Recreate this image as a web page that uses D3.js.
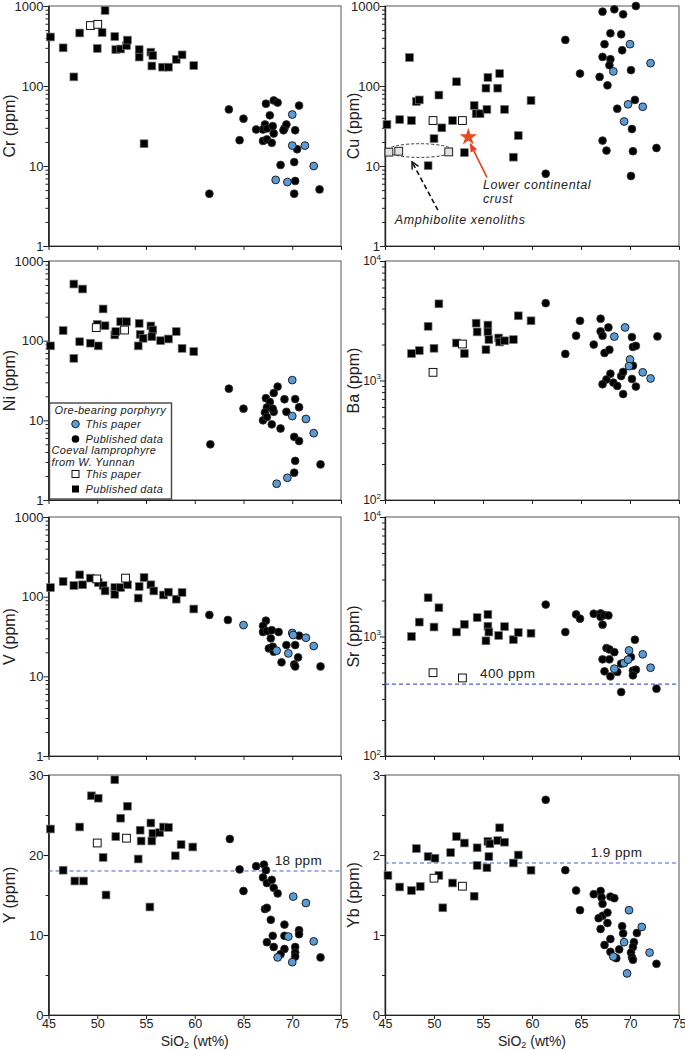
<!DOCTYPE html>
<html><head><meta charset="utf-8">
<script src="https://cdn.jsdelivr.net/npm/d3@7"></script>
<style>
body{margin:0;background:#fff}
svg{display:block}
text{font-family:"Liberation Sans",Arial,Helvetica,sans-serif;fill:#222}
</style>
</head><body>
<svg id="c" width="685" height="1050"></svg>
<script>
// ---------------- DATA ----------------
const xTicks = [45, 50, 55, 60, 65, 70, 75];
const xTitle = "SiO";

// Cr
const crLampPub = [[45.2,410],[46.5,300],[47.6,130],[48.2,460],[50.0,295],[50.5,465],[50.8,880],[51.8,415],[51.9,285],[52.4,290],[53.0,320],[53.1,375],[54.3,285],[54.3,230],[55.5,265],[55.7,240],[55.6,178],[56.7,172],[57.3,172],[58.1,215],[58.7,245],[59.9,180],[54.8,19]];
const crLampThis = [[49.3,570],[50.05,590]];
const crPorPub = [[61.5,4.5],[63.5,51],[65.0,39],[64.6,21],[66.3,28.6],[67.3,60],[68.1,66],[68.5,62],[67.7,43],[67.2,33],[67.0,28.6],[67.4,29.5],[68.0,31.5],[68.1,25.5],[67.0,20.6],[67.4,21.5],[67.9,19.5],[69.2,29.5],[69.4,33],[69.1,28],[68.8,10.3],[70.3,28],[70.7,57],[70.5,16.2],[70.2,11.2],[70.3,6.5],[70.2,4.5],[72.8,5.1]];
const crPorThis = [[70.0,44],[70.0,18],[71.3,18],[72.2,10],[68.3,6.7],[69.5,6.3]];

// Cu
const cuLampPub = [[45.2,33],[46.5,38],[47.5,227],[47.7,37],[48.2,64],[48.5,67],[49.4,10.1],[50.0,22],[50.5,77],[50.8,30],[51.9,37],[52.3,113],[53.1,14.7],[54.1,57],[54.3,45],[54.7,45],[55.3,94],[55.5,128],[55.4,51],[56.5,94],[56.7,143],[57.2,51],[58.6,24],[58.1,12.9],[59.9,66]];
const cuLampThis = [[49.9,37],[52.9,37]];
const cuAmph = [[45.4,14.9],[46.4,15.3],[51.5,15]];
const cuLcc = [[53.5,23]];
const cuPorPub = [[61.4,8],[63.4,377],[64.9,143],[67.2,850],[68.4,910],[69.3,787],[70.6,1000],[68.0,456],[69.1,443],[67.4,333],[69.2,280],[67.2,231],[68.0,216],[67.9,182],[66.9,130],[67.7,102],[70.1,158],[70.5,67],[68.7,52],[70.2,29],[67.2,20.8],[67.6,15.6],[70.3,15.3],[70.1,7.5],[72.7,16.8]];
const cuPorThis = [[70.0,333],[68.3,152],[72.1,193],[69.8,59],[71.3,55],[69.4,36]];

// Ni
const niLampPub = [[45.2,86],[46.5,134],[47.6,514],[48.5,445],[47.6,60],[48.2,97],[49.3,93],[50.1,86],[50.0,160],[50.6,250],[50.8,154],[51.8,118],[51.9,130],[52.4,173],[53.0,173],[54.3,165],[54.4,120],[54.7,107],[55.5,153],[55.7,136],[55.6,112],[54.2,86],[56.5,100],[57.3,105],[58.1,130],[58.7,80],[59.9,73]];
const niLampThis = [[49.9,146],[52.8,136]];
const niPorPub = [[61.6,5.0],[63.5,25],[65.0,14],[68.5,26.5],[68.1,22],[67.3,19],[67.7,17],[67.4,14.5],[67.2,12.6],[68.1,12.8],[68.0,14],[67.0,10],[67.4,11],[67.9,8.9],[68.8,7.9],[69.2,18.4],[69.4,12.8],[70.3,18.5],[70.7,14.6],[70.2,6.2],[70.7,5.5],[70.3,3.1],[70.2,2.2],[72.9,2.8]];
const niPorThis = [[70.0,32],[70.0,11.3],[71.4,10.4],[72.2,6.9],[68.4,1.6],[69.5,1.9]];

// Ba
const baLampPub = [[47.7,1680],[48.5,1780],[49.4,2840],[50.5,4380],[50.0,1860],[52.3,2060],[53.1,1680],[54.3,3020],[54.4,2550],[55.5,2910],[55.5,2550],[55.6,2200],[55.3,1810],[56.6,2270],[56.7,2100],[57.2,2150],[58.1,2200],[58.6,3480],[59.9,3160]];
const baLampThis = [[49.9,1170],[52.9,2020]];
const baPorPub = [[61.4,4440],[63.4,1670],[64.5,2370],[64.9,3160],[66.3,2000],[67.0,3290],[67.0,2580],[67.2,2370],[67.8,2780],[67.4,1700],[67.9,1810],[68.0,1140],[67.6,1020],[67.2,930],[68.3,960],[68.7,900],[69.1,1090],[69.3,1180],[69.3,770],[70.2,2310],[70.3,1910],[70.6,1950],[70.3,1330],[70.2,1030],[70.6,890],[72.8,2340]];
const baPorThis = [[68.4,2330],[69.5,2780],[70.0,1500],[69.9,1320],[71.3,1170],[72.1,1040]];

// V
const vLampPub = [[45.2,130],[46.5,155],[47.6,138],[48.2,188],[48.5,141],[49.3,171],[50.1,150],[50.6,138],[50.8,118],[51.8,130],[51.8,107],[52.4,130],[53.1,141],[54.2,96],[54.3,134],[54.8,174],[55.5,141],[55.8,118],[56.8,105],[57.3,114],[58.1,93],[58.7,113],[59.9,70]];
const vLampThis = [[49.95,167],[52.9,171]];
const vPorPub = [[61.5,59],[63.4,51],[67.3,50],[67.0,43],[67.0,36],[67.4,37],[67.9,38],[68.6,36],[67.8,30],[67.6,22.4],[68.1,20.4],[68.0,23.5],[68.9,15],[69.4,24.7],[70.3,24.7],[70.7,32.4],[70.6,17.3],[70.2,14.1],[70.3,13.3],[72.9,13.3]];
const vPorThis = [[65.0,44],[70.0,35],[70.1,33],[71.4,30.5],[72.2,24],[68.4,21],[69.6,19.4]];

// Sr
const srLampPub = [[47.7,1000],[48.5,1320],[49.4,2110],[50.0,1200],[50.5,1740],[52.3,1090],[53.1,1265],[54.4,1440],[55.5,1530],[55.5,1220],[55.6,1090],[55.3,920],[56.6,1020],[57.2,1210],[58.1,940],[58.6,1080],[59.9,1065]];
const srLampThis = [[49.9,498],[52.9,450]];
const srPorPub = [[61.4,1850],[63.4,1090],[64.5,1530],[64.9,1410],[66.3,1550],[67.0,1560],[67.0,1460],[67.4,1510],[67.8,1500],[67.2,1256],[67.6,800],[67.9,780],[68.4,740],[67.2,644],[67.9,644],[67.4,511],[68.0,464],[68.7,505],[69.1,343],[69.1,592],[70.1,673],[70.3,518],[70.6,527],[70.3,473],[70.5,940],[72.7,366]];
const srPorThis = [[68.4,538],[69.4,600],[69.9,765],[69.8,640],[71.3,709],[72.1,548]];

// Y
const yLampPub = [[45.2,23.25],[46.5,18.1],[47.7,16.75],[48.2,23.5],[48.6,16.75],[49.4,27.4],[50.1,27.1],[50.6,19.7],[50.9,15],[51.8,29.4],[51.9,22.3],[52.4,24.6],[53.1,26.1],[54.4,23.1],[54.2,19.5],[54.5,21.75],[55.5,24],[55.7,22.7],[55.6,21.75],[55.4,13.5],[56.4,22.8],[56.8,23.5],[57.3,23.45],[58.0,19.9],[58.6,21.3],[59.8,21]];
const yLampThis = [[50.0,21.5],[53.0,22.1]];
const yPorPub = [[63.6,22],[64.6,18.2],[65.0,15.5],[66.3,18.6],[67.1,18.8],[67.3,18.1],[67.0,17.2],[67.4,16.5],[67.9,16.9],[68.1,15.9],[68.5,15.2],[67.2,13.25],[67.4,13.4],[67.8,11.9],[69.2,11.3],[68.0,9.9],[67.4,9.1],[68.1,8.5],[69.2,9.9],[69.2,8.25],[68.8,7.6],[70.3,8.5],[70.3,7.8],[70.3,7.3],[70.7,10.6],[70.7,10.1],[72.9,7.2]];
const yPorThis = [[70.1,14.8],[71.4,14],[69.6,9.8],[72.2,9.2],[68.5,7.2],[70.0,6.6]];

// Yb
const ybLampPub = [[45.3,1.745],[46.5,1.60],[47.7,1.556],[48.2,2.08],[48.6,1.607],[49.4,1.98],[50.1,1.96],[50.5,1.745],[50.9,1.34],[51.7,2.03],[51.9,1.65],[52.3,2.23],[53.1,2.15],[54.1,1.485],[54.4,2.09],[54.4,1.87],[55.4,1.84],[55.5,2.17],[55.6,1.98],[55.7,2.14],[56.5,2.18],[56.7,2.34],[57.2,2.16],[58.1,1.90],[58.6,2.0],[59.9,1.81]];
const ybLampThis = [[50.0,1.71],[52.9,1.61]];
const ybPorPub = [[61.4,2.69],[63.4,1.81],[64.5,1.556],[64.9,1.31],[66.3,1.51],[67.0,1.55],[67.1,1.47],[67.2,1.39],[68.0,1.48],[68.4,1.46],[67.2,1.24],[66.8,1.21],[67.7,1.28],[67.7,1.15],[67.0,1.075],[69.2,1.11],[69.3,1.02],[68.0,0.95],[67.4,0.875],[68.0,0.79],[68.9,0.82],[68.6,0.71],[70.7,1.025],[70.4,0.91],[70.3,0.85],[70.1,0.78],[70.2,0.72],[70.3,0.69],[72.7,0.64]];
const ybPorThis = [[69.9,1.31],[71.2,1.10],[69.4,0.91],[72.0,0.78],[68.3,0.73],[69.7,0.52]];

// reference lines and annotations (data coordinates)
const srRef = [400, "400 ppm", 54.7];
const yRef = [18, "18 ppm", 68.2];
const ybRef = [1.9, "1.9 ppm", 66.0];
const cuEllipse = {x: [45.2, 51.9], y: [12.8, 19]};
const lccArrow = [[55.4, 7.2], [53.7, 19]];
const lccText = [[55.0, 5.2, "Lower continental"], [55.0, 3.4, "crust"]];
const amphArrow = [[50.4, 2.8], [47.75, 11.3]];
const amphText = [46.0, 1.86, "Amphibolite xenoliths"];
const legendLines = ["Ore-bearing porphyry", "This paper", "Published data", "Coeval lamprophyre", "from W. Yunnan", "This paper", "Published data"];

// ---------------- LAYOUT ----------------
const svg = d3.select("#c");
const colX = [[48.5, 341], [385, 679]];
const rowY = [[6, 246], [261, 500], [517, 756], [775, 1015]];
const BLUE = "#5b9bd5";

const panels = [
  {label:"Cr (ppm)", col:0, row:0, log:true, dom:[1,1000], sup:false, lp:crLampPub, lt:crLampThis, pp:crPorPub, pt:crPorThis},
  {label:"Cu (ppm)", col:1, row:0, log:true, dom:[1,1000], sup:false, lp:cuLampPub, lt:cuLampThis, pp:cuPorPub, pt:cuPorThis, cu:true},
  {label:"Ni (ppm)", col:0, row:1, log:true, dom:[1,1000], sup:false, lp:niLampPub, lt:niLampThis, pp:niPorPub, pt:niPorThis, legend:true},
  {label:"Ba (ppm)", col:1, row:1, log:true, dom:[100,10000], sup:true, lp:baLampPub, lt:baLampThis, pp:baPorPub, pt:baPorThis},
  {label:"V (ppm)", col:0, row:2, log:true, dom:[1,1000], sup:false, lp:vLampPub, lt:vLampThis, pp:vPorPub, pt:vPorThis},
  {label:"Sr (ppm)", col:1, row:2, log:true, dom:[100,10000], sup:true, lp:srLampPub, lt:srLampThis, pp:srPorPub, pt:srPorThis, ref:srRef},
  {label:"Y (ppm)", col:0, row:3, log:false, dom:[0,30], major:[0,10,20,30], minor:[5,15,25], lp:yLampPub, lt:yLampThis, pp:yPorPub, pt:yPorThis, ref:yRef},
  {label:"Yb (ppm)", col:1, row:3, log:false, dom:[0,3], major:[0,1,2,3], minor:[0.5,1.5,2.5], lp:ybLampPub, lt:ybLampThis, pp:ybPorPub, pt:ybPorThis, ref:ybRef}
];

const defs = svg.append("defs");
defs.append("marker").attr("id","arrRed").attr("viewBox","0 0 10 10").attr("refX",9).attr("refY",5)
  .attr("markerWidth",9).attr("markerHeight",9).attr("markerUnits","userSpaceOnUse").attr("orient","auto")
  .append("path").attr("d","M0,1 L10,5 L0,9 Z").attr("fill","#e8401c");
defs.append("marker").attr("id","arrBlk").attr("viewBox","0 0 10 10").attr("refX",9).attr("refY",5)
  .attr("markerWidth",9).attr("markerHeight",9).attr("markerUnits","userSpaceOnUse").attr("orient","auto")
  .append("path").attr("d","M1,1 L9,5 L1,9").attr("fill","none").attr("stroke","#111").attr("stroke-width",1.6);

function squares(g, data, x, y, fill, stroke, sw) {
  const s = 7.8;
  g.selectAll(null).data(data).enter().append("rect")
    .attr("x", d => x(d[0]) - s/2).attr("y", d => y(d[1]) - s/2)
    .attr("width", s).attr("height", s)
    .attr("fill", fill).attr("stroke", stroke).attr("stroke-width", sw);
}
function circles(g, data, x, y, fill, stroke, sw) {
  g.selectAll(null).data(data).enter().append("circle")
    .attr("cx", d => x(d[0])).attr("cy", d => y(d[1])).attr("r", 3.9)
    .attr("fill", fill).attr("stroke", stroke).attr("stroke-width", sw);
}

panels.forEach(p => {
  const [x0, x1] = colX[p.col];
  const [y0, y1] = rowY[p.row];
  const x = d3.scaleLinear().domain([45, 75]).range([x0, x1]);
  const y = (p.log ? d3.scaleLog() : d3.scaleLinear()).domain(p.dom).range([y1, y0]);
  const g = svg.append("g");

  // frame
  g.append("rect").attr("x", x0).attr("y", y0).attr("width", x1 - x0).attr("height", y1 - y0)
    .attr("fill", "none").attr("stroke", "#555").attr("stroke-width", 1);

  // ticks
  let major, minor;
  if (p.log) {
    major = []; minor = [];
    const e0 = Math.round(Math.log10(p.dom[0])), e1 = Math.round(Math.log10(p.dom[1]));
    for (let e = e0; e <= e1; e++) {
      major.push(Math.pow(10, e));
      if (e < e1) for (let k = 2; k <= 9; k++) minor.push(k * Math.pow(10, e));
    }
  } else { major = p.major; minor = p.minor; }

  const ya = g.append("g").attr("transform", `translate(${x0},0)`)
    .call(d3.axisLeft(y).tickValues(major).tickSize(5).tickFormat(""));
  const ym = g.append("g").attr("transform", `translate(${x0},0)`)
    .call(d3.axisLeft(y).tickValues(minor).tickSize(3).tickFormat(""));
  [ya, ym].forEach(a => {
    a.select(".domain").attr("stroke", "#222").attr("stroke-width", 1.2);
    a.selectAll(".tick line").attr("stroke", "#222");
  });

  // y tick labels
  major.forEach(v => {
    const t = g.append("text").attr("x", x0 - 5).attr("y", y(v)).attr("dy", "0.36em")
      .attr("text-anchor", "end").attr("font-size", 13);
    if (p.sup) {
      t.attr("x", x0 - 4).attr("font-size", 12);
      t.append("tspan").text("10");
      t.append("tspan").attr("font-size", 8).attr("dy", "-0.7em").text(String(Math.round(Math.log10(v))));
    } else {
      t.text(String(v));
    }
  });

  const isBottom = p.row === 3;
  const xa = g.append("g").attr("transform", `translate(0,${y1})`)
    .call(d3.axisBottom(x).tickValues(xTicks).tickSize(4).tickSizeOuter(0).tickFormat(isBottom ? d => d : ""));
  xa.select(".domain").attr("stroke", "#222").attr("stroke-width", 1.2);
  xa.selectAll(".tick line").attr("stroke", "#222");
  xa.selectAll(".tick text").attr("font-size", 12.5).attr("fill", "#222")
    .attr("font-family", '"Liberation Sans",Arial,sans-serif').attr("y", 4);

  if (isBottom) {
    const tt = g.append("text").attr("x", (x0 + x1) / 2).attr("y", 1046).attr("text-anchor", "middle").attr("font-size", 14);
    tt.append("tspan").text(xTitle);
    tt.append("tspan").attr("font-size", 9).attr("dy", 2).text("2");
    tt.append("tspan").attr("dy", -2).text(" (wt%)");
  }

  // y label
  g.append("text").attr("transform", `translate(${p.col === 0 ? 9 : 353},${(y0 + y1) / 2}) rotate(-90)`)
    .attr("text-anchor", "middle").attr("dy", "0.35em").attr("font-size", 16).text(p.label);

  // reference line
  if (p.ref) {
    g.append("line").attr("x1", x0).attr("x2", x1).attr("y1", y(p.ref[0])).attr("y2", y(p.ref[0]))
      .attr("stroke", "#4a5fd0").attr("stroke-width", 1.2).attr("stroke-dasharray", "4,3");
    g.append("text").attr("x", x(p.ref[2])).attr("y", y(p.ref[0]) - 6).attr("font-size", 13.5)
      .attr("letter-spacing", 0.4).text(p.ref[1]);
  }

  // annotations for Cu
  if (p.cu) {
    const ex = x(cuEllipse.x[0]), ex2 = x(cuEllipse.x[1]);
    const ey = y(cuEllipse.y[1]), ey2 = y(cuEllipse.y[0]);
    g.append("ellipse").attr("cx", (ex + ex2) / 2).attr("cy", (ey + ey2) / 2)
      .attr("rx", (ex2 - ex) / 2).attr("ry", (ey2 - ey) / 2)
      .attr("fill", "none").attr("stroke", "#222").attr("stroke-width", 0.9).attr("stroke-dasharray", "3,2");
    g.append("line").attr("x1", x(amphArrow[0][0])).attr("y1", y(amphArrow[0][1]))
      .attr("x2", x(amphArrow[1][0])).attr("y2", y(amphArrow[1][1]))
      .attr("stroke", "#111").attr("stroke-width", 1.6).attr("stroke-dasharray", "5,3")
      .attr("marker-end", "url(#arrBlk)");
    g.append("text").attr("x", x(amphText[0])).attr("y", y(amphText[1])).attr("font-size", 12.5)
      .attr("font-style", "italic").attr("letter-spacing", 0.6).text(amphText[2]);
    squares(g, cuAmph, x, y, "#e2e2e2", "#222", 1);
    g.append("line").attr("x1", x(lccArrow[0][0])).attr("y1", y(lccArrow[0][1]))
      .attr("x2", x(lccArrow[1][0])).attr("y2", y(lccArrow[1][1]))
      .attr("stroke", "#e8401c").attr("stroke-width", 1.6).attr("marker-end", "url(#arrRed)");
    lccText.forEach(t => g.append("text").attr("x", x(t[0])).attr("y", y(t[1])).attr("font-size", 12.5)
      .attr("font-style", "italic").attr("letter-spacing", 0.6).text(t[2]));
    g.selectAll(null).data(cuLcc).enter().append("path")
      .attr("d", d3.symbol(d3.symbolStar, 95))
      .attr("transform", d => `translate(${x(d[0])},${y(d[1])})`)
      .attr("fill", "#ea4a1e");
  }

  // points
  squares(g, p.lp, x, y, "#000", "#777", 0.7);
  squares(g, p.lt, x, y, "#fff", "#111", 1);
  circles(g, p.pp, x, y, "#000", "#333", 0.8);
  circles(g, p.pt, x, y, BLUE, "#111", 0.9);

  // legend
  if (p.legend) {
    const lx = x0 + 1, ly = 403, lw = 122, lh = 96;
    const lg = g.append("g");
    lg.append("rect").attr("x", lx).attr("y", ly).attr("width", lw).attr("height", lh)
      .attr("fill", "#fff").attr("stroke", "#444").attr("stroke-width", 1.4);
    const tx = (t, xx, yy) => lg.append("text").attr("x", xx).attr("y", yy).attr("font-size", 11)
      .attr("font-style", "italic").attr("letter-spacing", 0.35).text(t);
    tx(legendLines[0], lx + 5, ly + 11);
    lg.append("circle").attr("cx", lx + 26).attr("cy", ly + 21).attr("r", 3.8).attr("fill", BLUE).attr("stroke", "#111").attr("stroke-width", 0.9);
    tx(legendLines[1], lx + 36, ly + 25);
    lg.append("circle").attr("cx", lx + 26).attr("cy", ly + 36).attr("r", 3.8).attr("fill", "#000");
    tx(legendLines[2], lx + 36, ly + 40);
    tx(legendLines[3], lx + 2, ly + 51);
    tx(legendLines[4], lx + 2, ly + 63);
    lg.append("rect").attr("x", lx + 22.5).attr("y", ly + 67.5).attr("width", 7).attr("height", 7).attr("fill", "#fff").attr("stroke", "#111");
    tx(legendLines[5], lx + 36, ly + 75);
    lg.append("rect").attr("x", lx + 22.5).attr("y", ly + 82.5).attr("width", 7).attr("height", 7).attr("fill", "#000");
    tx(legendLines[6], lx + 36, ly + 90);
  }
});
</script>
</body></html>
